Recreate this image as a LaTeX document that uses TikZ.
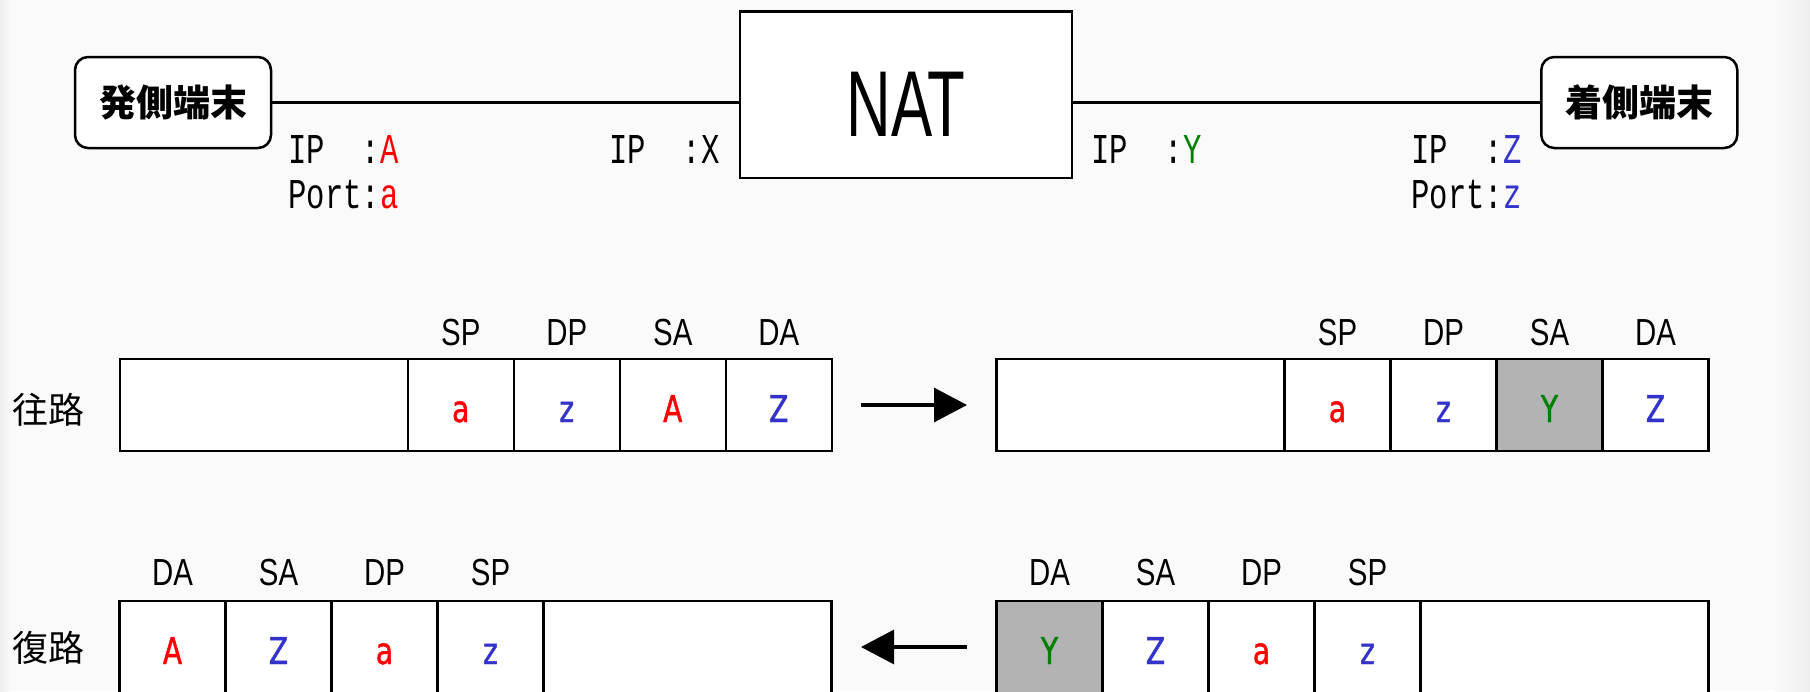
\documentclass[tikz,border=0pt]{standalone}
\usepackage{fontspec}
\usetikzlibrary{arrows.meta,positioning}
\newfontfamily\jpfont{Noto Sans CJK JP}
\newfontfamily\addrfont[FakeStretch=0.72]{Liberation Mono}
\newfontfamily\fieldfont[FakeStretch=0.78]{Liberation Sans}
\newfontfamily\valuefont[FakeStretch=0.76, FakeBold=1.2]{DejaVu Sans}
\newfontfamily\natfont[FakeStretch=0.66]{Liberation Sans}
\definecolor{bg}{HTML}{FAFAFA}
\definecolor{edge}{HTML}{EEEEEE}
\definecolor{addrred}{HTML}{FF0000}
\definecolor{addrblue}{HTML}{3333CC}
\definecolor{addrgreen}{HTML}{008000}
\definecolor{natgray}{HTML}{B3B3B3}
\tikzset{
  term/.style={draw, line width=1.25pt, rounded corners=6.5pt, fill=white, minimum width=98pt, minimum height=45.5pt, inner sep=0pt, font=\jpfont\bfseries\fontsize{18.5}{20}\selectfont},
  natbox/.style={draw, line width=1.25pt, fill=white, minimum width=166pt, minimum height=83.25pt, inner sep=0pt, text height=41.25pt, text depth=0pt, font=\natfont\fontsize{46.8}{50}\selectfont},
  link/.style={line width=1.35pt},
  addr/.style={inner sep=0pt, font=\addrfont\fontsize{21.25}{24}\selectfont},
  cell/.style={draw, line width=1.25pt, fill=white, outer sep=0pt, minimum width=53pt, minimum height=46pt, inner sep=0pt, text height=17pt, text depth=0pt, font=\valuefont\fontsize{18.5}{20}\selectfont},
  payload/.style={cell, minimum width=144pt},
  natcell/.style={cell, fill=natgray},
  hdr/.style={anchor=base, inner sep=0pt, font=\fieldfont\fontsize{18.85}{20}\selectfont},
  dir/.style={inner sep=0pt, font=\jpfont\fontsize{18}{20}\selectfont},
  flow/.style={line width=1.6pt, -{Triangle[length=16.5pt,width=17pt]}, shorten <=14.75pt, shorten >=14.75pt},
}
\begin{document}
\begin{tikzpicture}[x=0.5pt,y=-0.5pt]
\useasboundingbox (0,0) rectangle (1810,691);
\clip (0,0) rectangle (1810,691);
\fill[bg] (0,0) rectangle (1810,691);
\shade[left color=edge, right color=bg] (0,0) rectangle (10,691);
\shade[left color=bg, right color=edge] (1775,0) rectangle (1810,691);

% terminals and NAT
\node[term] (src) at (173,102.5) {発側端末};
\node[term] (dst) at (1639.3,102.5) {着側端末};
\node[natbox] (nat) at (906,94.75) {NAT};
\draw[link] (src.east) -- (src.east -| nat.west);
\draw[link] (dst.west) -- (dst.west -| nat.east);

\node[addr, anchor=base west] (srcip) at (288,163) {IP\phantom{xx}:\textcolor{addrred}{A}};
\node[addr, anchor=base west] (srcport) at (288,208) {Port:\textcolor{addrred}{a}};
\node[addr, anchor=base east] (lanip) at (720,163) {IP\phantom{xx}:X};
\node[addr, anchor=base west] (wanip) at (1091,163) {IP\phantom{xx}:\textcolor{addrgreen}{Y}};
\node[addr, anchor=base east] (dstip) at (1522,163) {IP\phantom{xx}:\textcolor{addrblue}{Z}};
\node[addr, anchor=base east] (dstport) at (1522,208) {Port:\textcolor{addrblue}{z}};

% outbound
\node[dir] (outlbl) at (48,410) {往路};
\node[payload] (opay) at (263.75,405) {};
\node[cell, right=0pt of opay] (osp) {\textcolor{addrred}{a}};
\node[cell, right=0pt of osp] (odp) {\textcolor{addrblue}{z}};
\node[cell, right=0pt of odp] (osa) {\textcolor{addrred}{A}};
\node[cell, right=0pt of osa] (oda) {\textcolor{addrblue}{Z}};
\node[hdr] (osph) at ([yshift=7pt]osp.north) {SP};
\node[hdr] (odph) at ([yshift=7pt]odp.north) {DP};
\node[hdr] (osah) at ([yshift=7pt]osa.north) {SA};
\node[hdr] (odah) at ([yshift=7pt]oda.north) {DA};

\node[payload] (npay) at (1140.5,405) {};
\node[cell, right=0pt of npay] (nsp) {\textcolor{addrred}{a}};
\node[cell, right=0pt of nsp] (ndp) {\textcolor{addrblue}{z}};
\node[natcell, right=0pt of ndp] (nsa) {\textcolor{addrgreen}{Y}};
\node[cell, right=0pt of nsa] (nda) {\textcolor{addrblue}{Z}};
\node[hdr] (nsph) at ([yshift=7pt]nsp.north) {SP};
\node[hdr] (ndph) at ([yshift=7pt]ndp.north) {DP};
\node[hdr] (nsah) at ([yshift=7pt]nsa.north) {SA};
\node[hdr] (ndah) at ([yshift=7pt]nda.north) {DA};
\draw[flow] (oda.east) -- (npay.west);

% return
\node[dir] (retlbl) at (48,648) {復路};
\node[cell] (qda) at (172.5,647) {\textcolor{addrred}{A}};
\node[cell, right=0pt of qda] (qsa) {\textcolor{addrblue}{Z}};
\node[cell, right=0pt of qsa] (qdp) {\textcolor{addrred}{a}};
\node[cell, right=0pt of qdp] (qsp) {\textcolor{addrblue}{z}};
\node[payload, right=0pt of qsp] (qpay) {};
\node[hdr] (qdah) at ([yshift=8pt]qda.north) {DA};
\node[hdr] (qsah) at ([yshift=8pt]qsa.north) {SA};
\node[hdr] (qdph) at ([yshift=8pt]qdp.north) {DP};
\node[hdr] (qsph) at ([yshift=8pt]qsp.north) {SP};

\node[natcell] (rda) at (1049.5,647) {\textcolor{addrgreen}{Y}};
\node[cell, right=0pt of rda] (rsa) {\textcolor{addrblue}{Z}};
\node[cell, right=0pt of rsa] (rdp) {\textcolor{addrred}{a}};
\node[cell, right=0pt of rdp] (rsp) {\textcolor{addrblue}{z}};
\node[payload, right=0pt of rsp] (rpay) {};
\node[hdr] (rdah) at ([yshift=8pt]rda.north) {DA};
\node[hdr] (rsah) at ([yshift=8pt]rsa.north) {SA};
\node[hdr] (rdph) at ([yshift=8pt]rdp.north) {DP};
\node[hdr] (rsph) at ([yshift=8pt]rsp.north) {SP};
\draw[flow] (rda.west) -- (qpay.east);
\end{tikzpicture}
\end{document}
